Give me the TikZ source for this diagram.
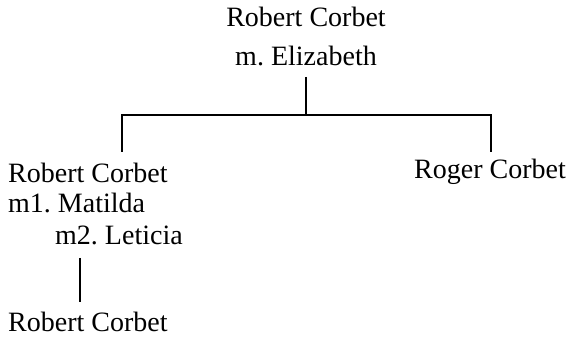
\documentclass[tikz,border=0pt]{standalone}
\usepackage{fontspec}
\setmainfont{Liberation Serif}
\frenchspacing
\begin{document}
\begin{tikzpicture}[x=1pt,y=-1pt,
  lbl/.style={inner sep=0pt,font=\fontsize{28}{32}\selectfont},
  conn/.style={line width=1.6pt}]
\useasboundingbox (0,0) rectangle (571,339);
\node[lbl,anchor=base] (t1) at (306,27) {Robert Corbet};
\node[lbl,anchor=base] (t2) at (306,66) {m. Elizabeth};
\node[lbl,anchor=base west] (l1) at (8,183) {Robert Corbet};
\node[lbl,anchor=base west] (l2) at (8,213) {m1. Matilda};
\node[lbl,anchor=base west] (l3) at (55,245) {m2. Leticia};
\node[lbl,anchor=base west] (b1) at (8,332) {Robert Corbet};
\node[lbl,anchor=base east] (r1) at (566,179) {Roger Corbet};
\coordinate (c0) at (306,77);
\coordinate (c1) at (306,115);
\coordinate (cl) at (122,115);
\coordinate (cr) at (491,115);
\coordinate (el) at (122,152);
\coordinate (er) at (491,152);
\coordinate (v1) at (80,258);
\coordinate (v2) at (80,302);
\draw[conn] (c0) -- (c1);
\draw[conn] (el) -- (cl) -- (cr) -- (er);
\draw[conn] (v1) -- (v2);
\end{tikzpicture}
\end{document}
